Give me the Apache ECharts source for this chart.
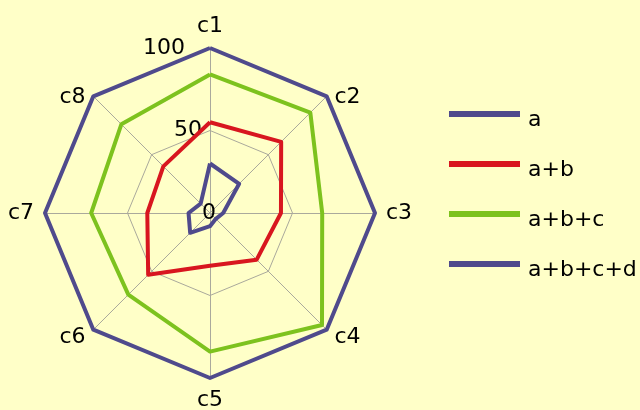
<!DOCTYPE html>
<html>
<head>
<meta charset="utf-8">
<script src="https://cdn.jsdelivr.net/npm/echarts@6/dist/echarts.min.js"></script>
<style>
  html, body { margin: 0; padding: 0; background: #ffffc8; }
  #chart { width: 640px; height: 410px; }
</style>
</head>
<body>
<div id="chart"></div>
<script>
const categories = ['c1', 'c2', 'c3', 'c4', 'c5', 'c6', 'c7', 'c8']
const seriesNames = ['a', 'a+b', 'a+b+c', 'a+b+c+d']
const valuesA = [30, 25, 8, 5, 8, 17, 13, 8]
const valuesAB = [55, 61, 43, 40, 32, 53, 38, 40]
const valuesABC = [84, 86, 68, 96, 84, 70, 72, 76]
const valuesABCD = [100, 100, 100, 100, 100, 100, 100, 100]
const colors = ['#4f4a8c', '#d8161f', '#7dc21e', '#4f4a8c']
const axisMax = 100

const font = 'DejaVu Sans'

// echarts lays indicators out counter-clockwise, the picture goes clockwise
const order = [0, 7, 6, 5, 4, 3, 2, 1]
const pick = arr => order.map(i => arr[i])

const txt = (extra) => Object.assign({ fontFamily: font, fontSize: 22, color: '#000' }, extra)

const indicator = pick(categories).map((name, i) => {
  const item = { name, min: 0, max: axisMax }
  if (i === 0) {
    item.axisLabel = {
      show: true,
      margin: -6,
      color: '#000',
      fontFamily: font,
      fontSize: 22,
      formatter: v => `{p${v}|${v}}`,
      rich: {
        p0: txt(),
        p50: txt({ padding: [0, 14, 0, 0] }),
        p100: txt({ padding: [0, 31, 0, 0] })
      }
    }
  }
  return item
})

const allValues = [valuesA, valuesAB, valuesABC, valuesABCD]

const chart = echarts.init(document.getElementById('chart'))
chart.setOption({
  backgroundColor: '#ffffc8',
  animation: false,
  textStyle: { fontFamily: font },
  legend: {
    orient: 'vertical',
    left: 449,
    top: 109,
    padding: 0,
    itemGap: 28,
    itemWidth: 71,
    itemHeight: 6,
    icon: 'rect',
    data: seriesNames,
    formatter: name => `{t|${name}}`,
    textStyle: {
      color: '#000',
      fontFamily: font,
      fontSize: 22,
      rich: { t: txt({ padding: [12, 0, 0, 3] }) }
    }
  },
  radar: {
    center: [210, 213],
    radius: 165,
    startAngle: 90,
    splitNumber: 2,
    shape: 'polygon',
    indicator,
    axisName: {
      color: '#000',
      fontFamily: font,
      fontSize: 22,
      // c2 and c8 sit level with their corner in the picture
      formatter: name => (name === 'c2' || name === 'c8') ? `{low|${name}}` : `{n|${name}}`,
      rich: {
        n: txt(),
        low: txt({ padding: [18, 0, 0, 0] })
      }
    },
    nameGap: 11,
    axisLine: { lineStyle: { color: '#aaa99c', width: 1 } },
    splitLine: { lineStyle: { color: '#aaa99c', width: 1 } },
    splitArea: { show: false },
    axisLabel: { show: false }
  },
  series: [{
    type: 'radar',
    symbol: 'none',
    data: seriesNames.map((name, k) => ({
      name,
      value: pick(allValues[k]),
      lineStyle: { color: colors[k], width: 4 },
      itemStyle: { color: colors[k] }
    }))
  }]
})
</script>
</body>
</html>
